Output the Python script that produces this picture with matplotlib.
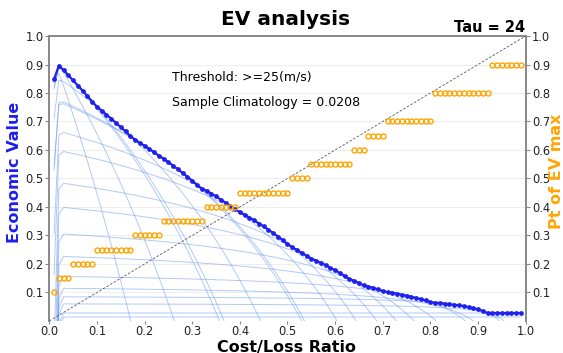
import numpy as np
import matplotlib.pyplot as plt

# cost/loss ratios on the x axis
cost_loss = np.round(np.arange(1, 100) / 100.0, 2)

# envelope: best economic value at each cost/loss ratio
ev_max = [0.848, 0.896, 0.880, 0.862, 0.844, 0.826, 0.808, 0.789, 0.770, 0.752,
          0.738, 0.724, 0.710, 0.695, 0.680, 0.665, 0.649, 0.636, 0.625, 0.615,
          0.604, 0.592, 0.580, 0.569, 0.557, 0.545, 0.532, 0.519, 0.506, 0.492,
          0.478, 0.464, 0.457, 0.447, 0.437, 0.426, 0.415, 0.404, 0.392, 0.382,
          0.373, 0.363, 0.353, 0.342, 0.332, 0.320, 0.309, 0.296, 0.284, 0.271,
          0.258, 0.249, 0.239, 0.229, 0.219, 0.212, 0.204, 0.196, 0.187, 0.178,
          0.168, 0.158, 0.147, 0.141, 0.133, 0.125, 0.121, 0.116, 0.111, 0.105,
          0.101, 0.099, 0.096, 0.092, 0.089, 0.085, 0.081, 0.076, 0.072, 0.066,
          0.064, 0.063, 0.061, 0.059, 0.057, 0.055, 0.052, 0.049, 0.045, 0.041,
          0.035, 0.028, 0.028, 0.028, 0.028, 0.028, 0.028, 0.028, 0.028]

# probability threshold giving the max EV
pt_max = [0.10, 0.15, 0.15, 0.15, 0.20, 0.20, 0.20, 0.20, 0.20, 0.25,
          0.25, 0.25, 0.25, 0.25, 0.25, 0.25, 0.25, 0.30, 0.30, 0.30,
          0.30, 0.30, 0.30, 0.35, 0.35, 0.35, 0.35, 0.35, 0.35, 0.35,
          0.35, 0.35, 0.40, 0.40, 0.40, 0.40, 0.40, 0.40, 0.40, 0.45,
          0.45, 0.45, 0.45, 0.45, 0.45, 0.45, 0.45, 0.45, 0.45, 0.45,
          0.50, 0.50, 0.50, 0.50, 0.55, 0.55, 0.55, 0.55, 0.55, 0.55,
          0.55, 0.55, 0.55, 0.60, 0.60, 0.60, 0.65, 0.65, 0.65, 0.65,
          0.70, 0.70, 0.70, 0.70, 0.70, 0.70, 0.70, 0.70, 0.70, 0.70,
          0.80, 0.80, 0.80, 0.80, 0.80, 0.80, 0.80, 0.80, 0.80, 0.80,
          0.80, 0.80, 0.90, 0.90, 0.90, 0.90, 0.90, 0.90, 0.90]

# hit rate / false alarm rate for each probability threshold (0.05 .. 0.95)
thresholds = [0.05, 0.10, 0.15, 0.20, 0.25, 0.30, 0.35, 0.40, 0.45, 0.50,
              0.55, 0.60, 0.65, 0.70, 0.75, 0.80, 0.85, 0.90, 0.95]
hit_rate = [0.970, 0.955, 0.932, 0.928, 0.874, 0.790, 0.783, 0.675, 0.605, 0.490,
            0.403, 0.308, 0.228, 0.157, 0.115, 0.085, 0.060, 0.028, 0.014]
false_alarm = [0.100, 0.057, 0.0356, 0.034, 0.0233, 0.0149, 0.0144, 0.0094, 0.0071, 0.00473,
               0.00319, 0.0020, 0.00112, 0.000483, 0.0003, 0.000105, 0.00006, 0.0, 0.0]

clim = 0.0208


def value_curve(a, h, f, s):
    # relative economic value for cost/loss ratio a
    num = np.minimum(a, s) - f * a * (1 - s) + h * s * (1 - a) - s
    den = np.minimum(a, s) - s * a
    return num / den


fig = plt.figure(figsize=(5.63, 3.53), dpi=100)
ax = fig.add_axes([0.0876, 0.0907, 0.8461, 0.8073])

for h, f in zip(hit_rate, false_alarm):
    ax.plot(cost_loss, value_curve(cost_loss, h, f, clim), color='cornflowerblue',
            lw=0.7, alpha=0.5, zorder=2)

ax.plot(cost_loss, ev_max, color='#1f1fee', lw=1.6, marker='o', markersize=2.4, zorder=4)

ax.set_xlim(0, 1)
ax.set_ylim(0, 1)
ax.set_xticks(np.arange(0, 1.01, 0.1))
ax.set_yticks(np.arange(0.1, 1.01, 0.1))
ax.set_xticklabels(['%.1f' % v for v in np.arange(0, 1.01, 0.1)])
ax.set_yticklabels(['%.1f' % v for v in np.arange(0.1, 1.01, 0.1)])
ax.grid(axis='y', color='#eeeeee', lw=0.8)
ax.set_axisbelow(True)

ax2 = ax.twinx()
ax2.plot([0, 1], [0, 1], color='#555555', lw=0.6, ls=(0, (3, 2)), zorder=3)
ax2.plot(cost_loss, pt_max, ls='none', marker='o', markersize=3.6, markerfacecolor='none',
         markeredgecolor='orange', markeredgewidth=1.0, zorder=5)
ax2.set_ylim(0, 1)
ax2.set_yticks(np.arange(0.1, 1.01, 0.1))
ax2.set_yticklabels(['%.1f' % v for v in np.arange(0.1, 1.01, 0.1)])

for a in (ax, ax2):
    for side in ('left', 'right', 'top'):
        a.spines[side].set_color('#888888')
        a.spines[side].set_linewidth(1.2)
    a.spines['bottom'].set_visible(False)
    a.tick_params(labelsize=8.3, colors='#888888', labelcolor='#222222', length=3)
ax.tick_params(axis='x', pad=0.5, length=2.5)
ax.tick_params(axis='y', pad=1)
ax2.tick_params(axis='y', pad=1.5)

ax.text(0.258, 0.856, 'Threshold: >=25(m/s)', fontsize=9, va='center')
ax.text(0.258, 0.765, 'Sample Climatology = 0.0208', fontsize=9, va='center')

fig.text(0.508, 0.945, 'EV analysis', ha='center', va='center', fontsize=14.5, weight='bold')
fig.text(0.933, 0.908, 'Tau = 24', ha='right', va='baseline', fontsize=10.5, weight='bold')
fig.text(0.026, 0.513, 'Economic Value', rotation=90, ha='center', va='center',
         fontsize=11.5, weight='bold', color='#1f1fee')
fig.text(0.988, 0.514, 'Pt of EV max', rotation=90, ha='center', va='center',
         fontsize=11.5, weight='bold', color='orange')
fig.text(0.508, 0.0042, 'Cost/Loss Ratio', ha='center', va='baseline', fontsize=11.5, weight='bold')

plt.savefig('out.png', dpi=100)
